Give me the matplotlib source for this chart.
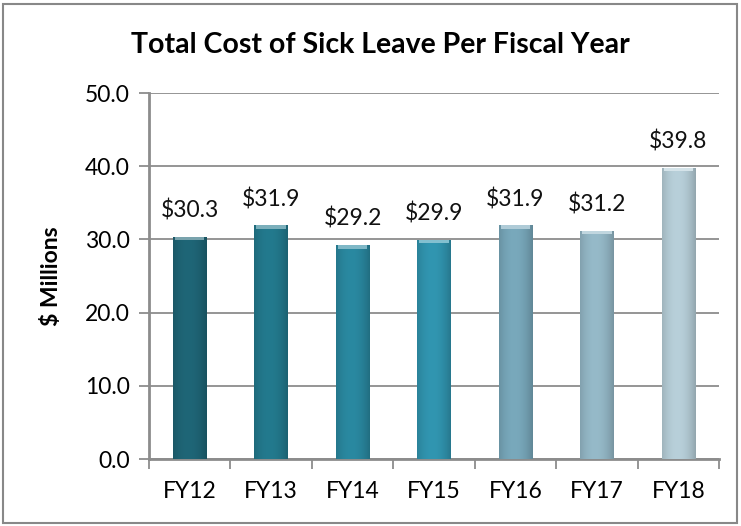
import matplotlib
matplotlib.use("Agg")
import matplotlib.pyplot as plt
import numpy as np
from matplotlib.patches import Rectangle
from matplotlib.colors import to_rgb

categories = ["FY12", "FY13", "FY14", "FY15", "FY16", "FY17", "FY18"]
values = [30.3, 31.9, 29.2, 29.9, 31.9, 31.2, 39.8]
labels = ["$30.3", "$31.9", "$29.2", "$29.9", "$31.9", "$31.2", "$39.8"]
colors = ["#1F6677", "#237A8E", "#2A89A1", "#3196B1", "#79A9BC", "#96BAC9", "#B8D0DA"]
yticks = [0, 10, 20, 30, 40, 50]

plt.rcParams['font.family'] = ['Lato', 'DejaVu Sans']

fig = plt.figure(figsize=(7.41, 5.26), dpi=100)
ax = fig.add_axes([149/741, 1 - 459/526, 570/741, 366/526])

x = np.arange(len(categories))
width = 0.41
bars = ax.bar(x, values, width=width, color=colors, zorder=3, edgecolor='none')

# horizontal shading gradient on each bar
grad = np.linspace(0, 1, 64)
shade = 1 - 0.2 * (np.abs(grad - 0.45) / 0.55) ** 2
for b, c in zip(bars, colors):
    rgb = np.array(to_rgb(c))
    img = np.clip(rgb[None, None, :] * shade[None, :, None], 0, 1)
    img = np.repeat(img, 2, axis=0)
    x0, y0 = b.get_x(), b.get_y()
    w, h = b.get_width(), b.get_height()
    im = ax.imshow(img, extent=[x0, x0 + w, y0, y0 + h], aspect='auto', zorder=4, interpolation='bilinear')
    im.set_clip_path(b)
    # lighter top bevel
    lighter = np.clip(rgb + (1 - rgb) * 0.4, 0, 1)
    ax.add_patch(Rectangle((x0 + w * 0.06, y0 + h - 0.45), w * 0.88, 0.45, facecolor=lighter,
                           edgecolor='none', zorder=5))

for xi, v, lab in zip(x, values, labels):
    ax.annotate(lab, (xi, v), xytext=(0, 11), textcoords='offset points',
                ha='center', va='bottom', fontsize=16.5, color='#111111')

ax.set_xlim(-0.5, len(categories) - 0.5)
ax.set_ylim(0, 50)
ax.set_yticks(yticks)
ax.set_yticklabels([f"{t:.1f}" for t in yticks], fontsize=16.5)
ax.yaxis.grid(True, color='#8C8C8C', linewidth=1.3, zorder=0)
ax.set_axisbelow(True)

ax.set_xticks(np.arange(len(categories) + 1) - 0.5)
ax.set_xticklabels([])
ax.set_xticks(x, minor=True)
ax.set_xticklabels(categories, minor=True, fontsize=16.5)
ax.tick_params(axis='x', which='minor', length=0, pad=16)
ax.tick_params(axis='x', which='major', length=7, width=1.3, color='#8C8C8C', direction='out')
ax.tick_params(axis='y', length=7, width=1.3, color='#8C8C8C', direction='out', pad=7)

for s in ['top', 'right']:
    ax.spines[s].set_visible(False)
for s in ['left', 'bottom']:
    ax.spines[s].set_color('#8C8C8C')
    ax.spines[s].set_linewidth(2)

ax.set_ylabel("$ Millions", fontsize=16.5, fontweight='bold', labelpad=16)
fig.text(380/741, 1 - 45/526, "Total Cost of Sick Leave Per Fiscal Year", ha='center', va='center',
         fontsize=20.5, fontweight='bold')

fig.patches.append(Rectangle((3/741, 3/526), 734/741, 519/526, transform=fig.transFigure,
                             fill=False, edgecolor='#888888', linewidth=1.5))

fig.savefig("out.png", dpi=100)
